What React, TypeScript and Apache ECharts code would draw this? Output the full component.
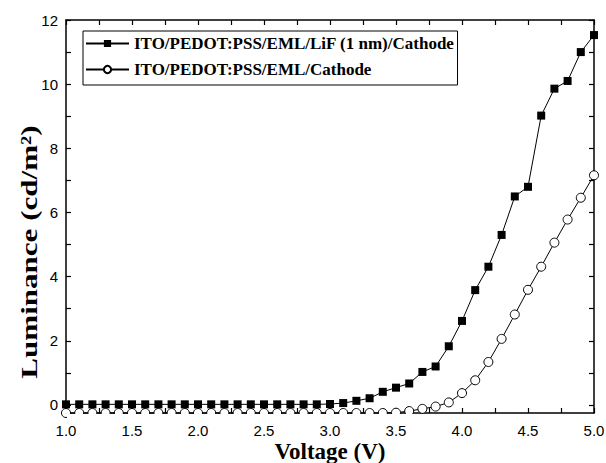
import React, { useEffect, useRef } from "react";
import * as echarts from "echarts";

const voltages = [
  1.0, 1.1, 1.2, 1.3, 1.4, 1.5, 1.6, 1.7, 1.8, 1.9,
  2.0, 2.1, 2.2, 2.3, 2.4, 2.5, 2.6, 2.7, 2.8, 2.9,
  3.0, 3.1, 3.2, 3.3, 3.4, 3.5, 3.6, 3.7, 3.8, 3.9,
  4.0, 4.1, 4.2, 4.3, 4.4, 4.5, 4.6, 4.7, 4.8, 4.9, 5.0,
];

const lifSeries = [
  0.02, 0.02, 0.02, 0.02, 0.02, 0.02, 0.02, 0.02, 0.02, 0.02,
  0.02, 0.02, 0.02, 0.02, 0.02, 0.02, 0.02, 0.02, 0.02, 0.02,
  0.03, 0.06, 0.13, 0.21, 0.41, 0.54, 0.67, 1.03, 1.2, 1.83,
  2.62, 3.58, 4.31, 5.3, 6.5, 6.8, 9.02, 9.86, 10.1, 11.0, 11.53,
];

const refSeries = [
  -0.25, -0.25, -0.25, -0.25, -0.25, -0.25, -0.25, -0.25, -0.25, -0.25,
  -0.25, -0.25, -0.25, -0.25, -0.25, -0.25, -0.25, -0.25, -0.25, -0.25,
  -0.25, -0.25, -0.25, -0.25, -0.25, -0.24, -0.19, -0.12, -0.05, 0.08,
  0.37, 0.77, 1.34, 2.06, 2.82, 3.59, 4.31, 5.06, 5.78, 6.46, 7.16,
];

const seriesNames = [
  "ITO/PEDOT:PSS/EML/LiF (1 nm)/Cathode",
  "ITO/PEDOT:PSS/EML/Cathode",
];

const xAxisTitle = "Voltage (V)";
const yAxisTitle = "Luminance (cd/m²)";

const xLabelValues = [1.0, 1.5, 2.0, 2.5, 3.0, 3.5, 4.0, 4.5, 5.0];
const yLabelValues = [0, 2, 4, 6, 8, 10, 12];
const yTickValues = [0, 1, 2, 3, 4, 5, 6, 7, 8, 9, 10, 11, 12];

export default function App() {
  const ref = useRef<HTMLDivElement>(null);

  useEffect(() => {
    if (!ref.current) return;
    const chart = echarts.init(ref.current, null, { renderer: "svg" });
    const axisLine = { show: true, onZero: false, lineStyle: { color: "#000", width: 1.5 } };
    const tickStyle = { color: "#000", width: 1.2 };
    const labelStyle = { fontFamily: "Liberation Sans", fontSize: 15, color: "#000" };

    const xBase = { type: "value" as const, min: 1, max: 5, interval: 0.25, splitLine: { show: false } };
    const yBase = { type: "value" as const, min: -0.25, max: 12, splitLine: { show: false } };

    chart.setOption({
      animation: false,
      backgroundColor: "#fff",
      grid: { left: 66, right: 12, top: 20, bottom: 50, containLabel: false, outerBoundsMode: "none" },
      legend: {
        orient: "vertical",
        left: 83,
        top: 31,
        data: seriesNames,
        borderColor: "#000",
        borderWidth: 1,
        padding: [4, 3, 7, 2],
        itemGap: 9,
        itemWidth: 43,
        itemHeight: 9,
        textStyle: { fontFamily: "Liberation Serif", fontWeight: "bold", fontSize: 17, color: "#000" },
      },
      graphic: [
        {
          type: "rect",
          z: 50,
          silent: true,
          shape: { x: 67, y: 414, width: 526, height: 6 },
          style: { fill: "#fff" },
        },
        {
          type: "text",
          x: 29,
          y: 252,
          rotation: Math.PI / 2,
          scaleX: 1.35,
          style: {
            text: yAxisTitle,
            font: "bold 23px 'Liberation Serif'",
            fill: "#000",
            align: "center",
            verticalAlign: "middle",
            textAlign: "center",
            textVerticalAlign: "middle",
          },
        },
      ],
      xAxis: [
        {
          ...xBase,
          position: "bottom",
          name: xAxisTitle,
          nameLocation: "middle",
          nameGap: 27,
          nameMoveOverlap: false,
          nameTextStyle: { fontFamily: "Liberation Serif", fontWeight: "bold", fontSize: 23, color: "#000" },
          axisLine,
          axisTick: { show: true, inside: true, length: 5, lineStyle: tickStyle },
          axisLabel: {
            ...labelStyle,
            margin: 10,
            customValues: xLabelValues,
            formatter: (v: number) => v.toFixed(1),
          },
        },
        {
          ...xBase,
          position: "top",
          axisLine,
          axisTick: { show: true, inside: true, length: 5, lineStyle: tickStyle },
          axisLabel: { show: false },
        },
      ],
      yAxis: [
        {
          ...yBase,
          position: "left",
          axisLine,
          axisTick: { show: true, inside: true, length: 5, customValues: yTickValues, lineStyle: tickStyle },
          axisLabel: { ...labelStyle, margin: 8, customValues: yLabelValues },
        },
        {
          ...yBase,
          position: "right",
          axisLine,
          axisTick: { show: true, inside: true, length: 5, customValues: yTickValues, lineStyle: tickStyle },
          axisLabel: { show: false },
        },
      ],
      series: [
        {
          name: seriesNames[1],
          type: "line",
          data: voltages.map((v, i) => [v, refSeries[i]]),
          symbol: "circle",
          symbolSize: 9,
          showAllSymbol: true,
          clip: false,
          itemStyle: { color: "#fff", borderColor: "#000", borderWidth: 1 },
          lineStyle: { color: "#000", width: 1 },
          z: 2,
        },
        {
          name: seriesNames[0],
          type: "line",
          data: voltages.map((v, i) => [v, lifSeries[i]]),
          symbol: "rect",
          symbolSize: 8,
          showAllSymbol: true,
          clip: false,
          itemStyle: { color: "#000" },
          lineStyle: { color: "#000", width: 1 },
          z: 3,
        },
      ],
    });
    return () => chart.dispose();
  }, []);

  return (
    <div
      ref={ref}
      style={{ position: "absolute", left: 0, top: 0, width: 606, height: 463 }}
    />
  );
}
